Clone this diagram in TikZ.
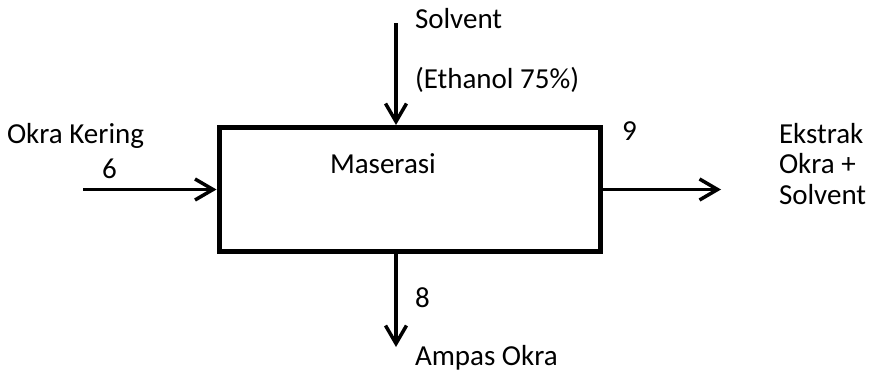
\documentclass[tikz,border=0pt]{standalone}
\usepackage{fontspec}
\setmainfont{Carlito}
\usetikzlibrary{arrows.meta}

\tikzset{
  lbl/.style={anchor=base west, inner sep=0pt, outer sep=0pt,
    font=\fontsize{29}{31}\selectfont},
  unit/.style={draw=black, line width=5pt, fill=white,
    minimum width=381pt, minimum height=124pt, inner sep=0pt},
  flow/.style={draw=black, line width=3.5pt,
    -{Straight Barb[length=18pt,width=21pt,line width=3.5pt]}},
}

\begin{document}
\begin{tikzpicture}[x=1pt,y=-1pt]
  \useasboundingbox (0,0) rectangle (870,372);

  % process unit
  \node[unit] (box) at (409.5,189.5) {};
  \node[lbl] (maserasi) at (330,173) {Maserasi};

  % solvent feed from the top
  \coordinate (solvIn) at (396,23);
  \draw[flow] (solvIn) -- (solvIn |- box.north);
  \node[lbl] (solv1) at (415,28) {Solvent};
  \node[lbl] (solv2) at (415,88) {(Ethanol 75\%)};

  % dried okra feed from the left
  \coordinate (okraIn) at (83,189.5);
  \draw[flow] (okraIn) -- (box.west);
  \node[lbl] (okra) at (7,143) {Okra Kering};
  \node[lbl] (s6) at (102,178) {6};

  % extract leaving to the right
  \coordinate (extOut) at (721,189.5);
  \draw[flow] (box.east) -- (extOut);
  \node[lbl] (s9) at (622,140) {9};
  \node[lbl] (ext1) at (779,143) {Ekstrak};
  \node[lbl] (ext2) at (779,173.5) {Okra +};
  \node[lbl] (ext3) at (779,204) {Solvent};

  % residue leaving at the bottom
  \coordinate (ampOut) at (396,347);
  \draw[flow] (ampOut |- box.south) -- (ampOut);
  \node[lbl] (s8) at (415,307) {8};
  \node[lbl] (ampas) at (415,365) {Ampas Okra};
\end{tikzpicture}
\end{document}
